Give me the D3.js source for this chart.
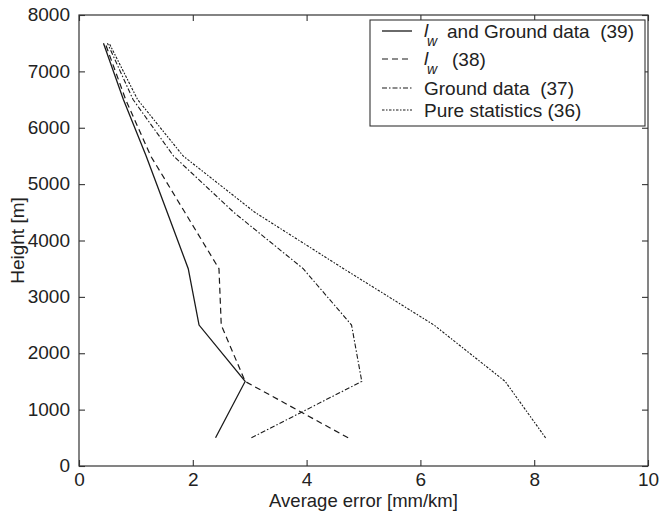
<!DOCTYPE html>
<html>
<head>
<meta charset="utf-8">
<script src="https://cdn.jsdelivr.net/npm/d3@7"></script>
<style>
  html, body { margin: 0; padding: 0; background: #fff; }
  svg { display: block; }
  text { font-family: "Liberation Sans", Arial, Helvetica, sans-serif; fill: #222; }
</style>
</head>
<body>
<svg id="chart" width="661" height="511"></svg>
<script>
// ---- data ----
const heights = [500, 1500, 2500, 3500, 4500, 5500, 6500, 7500];
const lwGround = [2.40, 2.92, 2.11, 1.92, 1.55, 1.18, 0.78, 0.43];
const lwOnly   = [4.73, 2.92, 2.50, 2.46, 1.86, 1.26, 0.82, 0.46];
const ground   = [3.03, 4.97, 4.79, 3.94, 2.72, 1.66, 0.95, 0.50];
const pureStat = [8.20, 7.49, 6.24, 4.65, 3.09, 1.83, 1.03, 0.53];
const xTicks = [0, 2, 4, 6, 8, 10];
const yTicks = [0, 1000, 2000, 3000, 4000, 5000, 6000, 7000, 8000];
const xTitle = "Average error [mm/km]";
const yTitle = "Height [m]";

const series = [
  { name: "lwGround", label: "and Ground data  (39)", sub: true, values: lwGround, dash: null, width: 1.3 },
  { name: "lw", label: "(38)", sub: true, values: lwOnly, dash: "6,4", width: 1.2 },
  { name: "ground", label: "Ground data  (37)", sub: false, values: ground, dash: "5,2,1.5,2", width: 1.1 },
  { name: "pure", label: "Pure statistics (36)", sub: false, values: pureStat, dash: "2.5,1.5,1.5,1.5", width: 1.1 }
];

// ---- layout ----
const W = 661, H = 511;
const m = { left: 79, right: 13, top: 15, bottom: 45 };
const svg = d3.select("#chart");
const x = d3.scaleLinear().domain([0, 10]).range([m.left, W - m.right]);
const y = d3.scaleLinear().domain([0, 8000]).range([H - m.bottom, m.top]);
const axisColor = "#333";
const fs = 19;

// frame
svg.append("rect")
  .attr("x", x(0)).attr("y", y(8000))
  .attr("width", x(10) - x(0)).attr("height", y(0) - y(8000))
  .attr("fill", "none").attr("stroke", axisColor).attr("stroke-width", 1.2);

// axes (ticks inward on all sides)
const tl = 6;
const gx = svg.append("g").attr("transform", `translate(0,${y(0)})`)
  .call(d3.axisBottom(x).tickValues(xTicks).tickSizeInner(-tl).tickSizeOuter(0).tickPadding(7).tickFormat(d3.format("d")));
const gxt = svg.append("g").attr("transform", `translate(0,${y(8000)})`)
  .call(d3.axisTop(x).tickValues(xTicks).tickSizeInner(-tl).tickSizeOuter(0).tickFormat(""));
const gy = svg.append("g").attr("transform", `translate(${x(0)},0)`)
  .call(d3.axisLeft(y).tickValues(yTicks).tickSizeInner(-tl).tickSizeOuter(0).tickPadding(tl + 3).tickFormat(d3.format("d")));
const gyr = svg.append("g").attr("transform", `translate(${x(10)},0)`)
  .call(d3.axisRight(y).tickValues(yTicks).tickSizeInner(-tl).tickSizeOuter(0).tickFormat(""));
[gx, gxt, gy, gyr].forEach(g => {
  g.select(".domain").remove();
  g.selectAll(".tick line").attr("stroke", axisColor).attr("stroke-width", 1.1);
  g.selectAll("text").attr("font-size", fs).attr("fill", "#222")
    .attr("font-family", '"Liberation Sans", Arial, sans-serif');
});
gx.selectAll(".tick text").attr("dy", "0.7em");
gy.selectAll(".tick text").attr("dy", "0.3em");

// axis titles
svg.append("text")
  .attr("x", (x(0) + x(10)) / 2).attr("y", 507)
  .attr("text-anchor", "middle").attr("font-size", 18.5).text(xTitle);
svg.append("text")
  .attr("transform", `translate(24,${(y(0) + y(8000)) / 2}) rotate(-90)`)
  .attr("text-anchor", "middle").attr("font-size", fs).text(yTitle);

// lines
const line = d3.line().x(d => x(d[0])).y(d => y(d[1]));
const plot = svg.append("g");
series.forEach(s => {
  plot.append("path")
    .datum(s.values.map((v, i) => [v, heights[i]]))
    .attr("d", line)
    .attr("fill", "none")
    .attr("stroke", "#1a1a1a")
    .attr("stroke-width", s.width)
    .attr("stroke-dasharray", s.dash);
});

// legend
const lg = svg.append("g");
const lx0 = 370, lx1 = 645, ly0 = 20, ly1 = 126;
lg.append("rect").attr("x", lx0).attr("y", ly0).attr("width", lx1 - lx0).attr("height", ly1 - ly0)
  .attr("fill", "#fff").attr("stroke", axisColor).attr("stroke-width", 1.1);
const rowY = [31, 59, 88, 110];
series.forEach((s, i) => {
  const cy = rowY[i];
  lg.append("line").attr("x1", 382).attr("x2", 412).attr("y1", cy).attr("y2", cy)
    .attr("stroke", "#1a1a1a").attr("stroke-width", s.width).attr("stroke-dasharray", s.dash);
  let tx = 424;
  if (s.sub) {
    lg.append("text").attr("x", tx).attr("y", cy + 6)
      .attr("font-family", '"Liberation Serif", "Times New Roman", serif')
      .attr("font-style", "italic").attr("font-size", 19).text("l");
    lg.append("text").attr("x", tx + 3).attr("y", cy + 15)
      .attr("font-family", '"Liberation Serif", "Times New Roman", serif')
      .attr("font-style", "italic").attr("font-size", 14).text("w");
    tx = (i === 0) ? 447 : 452;
  }
  lg.append("text").attr("x", tx).attr("y", cy + 7)
    .attr("font-size", fs).style("white-space", "pre").text(s.label);
});
</script>
</body>
</html>
